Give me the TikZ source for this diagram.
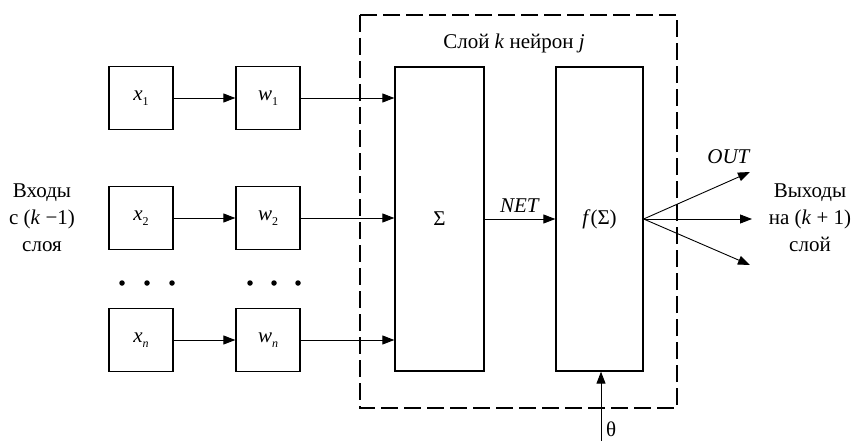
\documentclass[tikz,border=0pt]{standalone}
\usepackage{fontspec}
\setmainfont{Liberation Serif}
\usetikzlibrary{arrows.meta}
\newcommand{\subsc}[1]{\raisebox{-5pt}{\fontsize{12}{12}\selectfont #1}}
\begin{document}
\begin{tikzpicture}[x=1pt,y=-1pt,
  font=\fontsize{21}{27}\selectfont,
  blk/.style={draw, line width=1.3pt, inner sep=0pt, minimum width=64pt, minimum height=63pt},
  tall/.style={draw, line width=1.3pt, inner sep=0pt, minimum height=304pt},
  arr/.style={-{Triangle[length=12pt,width=9pt]}, line width=0.9pt},
  frame/.style={line width=1.5pt, dash pattern=on 17pt off 6pt},
  dot/.style={circle, fill, inner sep=0pt, minimum size=5.5pt}]
\useasboundingbox (0,0) rectangle (864,441);
\fill[white] (0,0) rectangle (864,441);

\draw[frame] (360,15) rectangle (677,408);
\node (title) at (514,43) {Слой \textit{k} нейрон \textit{j}};

\node[blk] (x1) at (141,98) {\textit{x}\subsc{1}};
\node[blk] (w1) at (268,98) {\textit{w}\subsc{1}};
\node[blk] (x2) at (141,218) {\textit{x}\subsc{2}};
\node[blk] (w2) at (268,218) {\textit{w}\subsc{2}};
\node[blk] (xn) at (141,340) {\textit{x}\subsc{\textit{n}}};
\node[blk] (wn) at (268,340) {\textit{w}\subsc{\textit{n}}};

\node[dot] (d1) at (122,283) {};
\node[dot] (d2) at (147,283) {};
\node[dot] (d3) at (172,283) {};
\node[dot] (d4) at (250,283) {};
\node[dot] (d5) at (274,283) {};
\node[dot] (d6) at (298,283) {};

\node[tall, minimum width=89pt] (S) at (439.5,219) {Σ};
\node[tall, minimum width=87pt] (f) at (599.5,219) {\textit{f}(Σ)};

\draw[arr] (x1) -- (w1);
\draw[arr] (x2) -- (w2);
\draw[arr] (xn) -- (wn);
\draw[arr] (w1) -- (w1 -| S.west);
\draw[arr] (w2) -- (w2 -| S.west);
\draw[arr] (wn) -- (wn -| S.west);
\draw[arr] (S.east) -- node[above=3pt] {\textit{NET}} (f.west);

\coordinate (o1) at (750,172);
\coordinate (o2) at (752,219);
\coordinate (o3) at (750,265);
\draw[arr] (f.east) -- (o1);
\draw[arr] (f.east) -- (o2);
\draw[arr] (f.east) -- (o3);
\node (out) at (729,157) {\textit{OUT}};

\coordinate (th) at (601,441);
\draw[arr] (th) -- (th |- f.south);
\node[anchor=south west, inner sep=0pt] (theta) at (606,437) {θ};

\node[align=center] (in) at (42,218) {Входы\\с (\textit{k} −1)\\слоя};
\node[align=center] (outl) at (810,218) {Выходы\\на (\textit{k} + 1)\\слой};
\end{tikzpicture}
\end{document}
